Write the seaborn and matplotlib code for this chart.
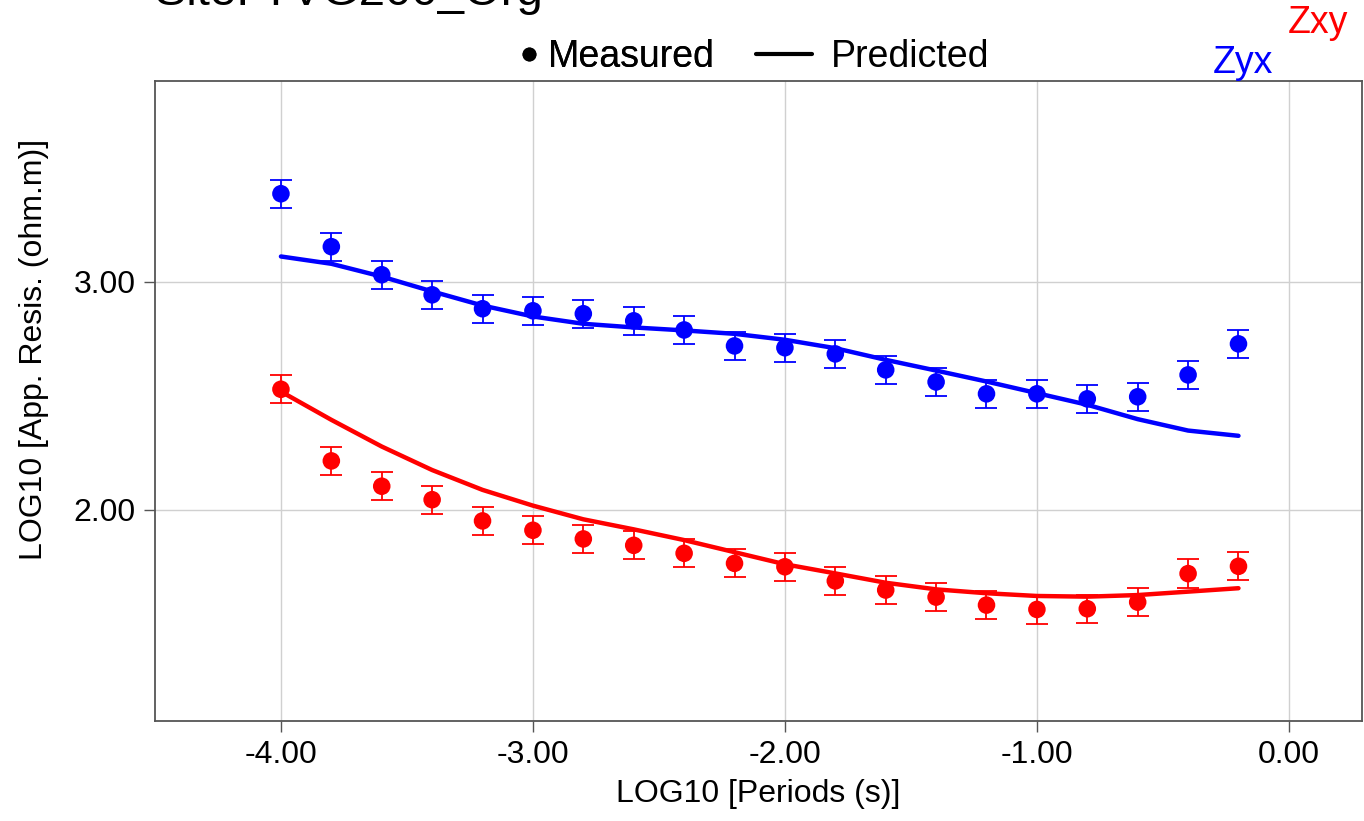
import matplotlib

matplotlib.use("Agg")

import matplotlib.pyplot as plt
import pandas as pd
import seaborn as sns
from matplotlib.lines import Line2D
from matplotlib.ticker import FormatStrFormatter, FixedLocator

# log10 period for each sounding
periods = [-4.0, -3.8, -3.6, -3.4, -3.2, -3.0, -2.8, -2.6, -2.4, -2.2,
           -2.0, -1.8, -1.6, -1.4, -1.2, -1.0, -0.8, -0.6, -0.4, -0.2]

zyx_measured = [3.386, 3.154, 3.031, 2.943, 2.882, 2.873, 2.860, 2.829, 2.789, 2.719,
                2.711, 2.684, 2.614, 2.561, 2.509, 2.509, 2.487, 2.496, 2.592, 2.728]
zyx_error = [0.062] * 20
zyx_predicted = [3.111, 3.079, 3.023, 2.958, 2.896, 2.848, 2.816, 2.800, 2.787, 2.772,
                 2.746, 2.709, 2.658, 2.611, 2.563, 2.512, 2.461, 2.398, 2.348, 2.325]

zxy_measured = [2.529, 2.215, 2.104, 2.045, 1.952, 1.911, 1.873, 1.845, 1.810, 1.766,
                1.751, 1.689, 1.649, 1.618, 1.583, 1.564, 1.567, 1.596, 1.721, 1.753]
zxy_error = [0.062] * 20
zxy_predicted = [2.519, 2.395, 2.278, 2.175, 2.088, 2.019, 1.959, 1.915, 1.868, 1.815,
                 1.762, 1.722, 1.681, 1.652, 1.635, 1.623, 1.620, 1.627, 1.642, 1.657]

x_ticks = [-4.0, -3.0, -2.0, -1.0, 0.0]
y_ticks = [2.0, 3.0]

BLUE = "#0000FF"
RED = "#FF0000"
SPINE = "#555555"

sns.set_theme(style="whitegrid")
plt.rcParams["font.family"] = ["Liberation Sans", "DejaVu Sans"]
plt.rcParams["axes.unicode_minus"] = False
plt.rcParams["text.color"] = "black"
plt.rcParams["axes.labelcolor"] = "black"

fig = plt.figure(figsize=(13.64, 8.21), dpi=100)
ax = fig.add_axes([0.1136, 0.1218, 0.8849, 0.7795])

predicted_df = pd.DataFrame(
    {
        "period": periods * 2,
        "rho": zyx_predicted + zxy_predicted,
        "mode": ["Zyx"] * 20 + ["Zxy"] * 20,
    }
)
measured_df = pd.DataFrame(
    {
        "period": periods * 2,
        "rho": zyx_measured + zxy_measured,
        "err": zyx_error + zxy_error,
        "mode": ["Zyx"] * 20 + ["Zxy"] * 20,
    }
)
palette = {"Zyx": BLUE, "Zxy": RED}

for mode, grp in measured_df.groupby("mode"):
    ax.errorbar(grp["period"], grp["rho"], yerr=grp["err"], fmt="none",
                ecolor=palette[mode], elinewidth=1.3, capsize=8, capthick=1.3,
                zorder=3)

sns.lineplot(data=predicted_df, x="period", y="rho", hue="mode", palette=palette,
             estimator=None, sort=False, linewidth=3.2, legend=False, ax=ax,
             zorder=4)
sns.scatterplot(data=measured_df, x="period", y="rho", hue="mode", palette=palette,
                s=160, edgecolor="none", legend=False, ax=ax, zorder=5)

ax.set_xlim(-4.5, 0.29)
ax.set_ylim(1.075, 3.88)
ax.xaxis.set_major_locator(FixedLocator(x_ticks))
ax.yaxis.set_major_locator(FixedLocator(y_ticks))
ax.xaxis.set_major_formatter(FormatStrFormatter("%.2f"))
ax.yaxis.set_major_formatter(FormatStrFormatter("%.2f"))
ax.tick_params(axis="both", direction="out", length=8, width=1, color=SPINE,
               labelsize=23, labelcolor="black", bottom=True, left=True, pad=6)
ax.grid(True, color="#d0d0d0", linewidth=1)
ax.set_facecolor("white")
for spine in ax.spines.values():
    spine.set_color(SPINE)
    spine.set_linewidth(1.3)

ax.set_xlabel("LOG10 [Periods (s)]", fontsize=23, labelpad=6)
ax.set_ylabel("LOG10 [App. Resis. (ohm.m)]", fontsize=23)
ax.yaxis.set_label_coords(-0.088, 0.581)

# title sits partly above the canvas, as in the original export
fig.text(0.114, 1 - 5 / 821, "Site: TVG200_Org", fontsize=34, ha="left", va="baseline")

measured_handle = Line2D([], [], marker="o", color="black", linestyle="none", markersize=9)
predicted_handle = Line2D([], [], color="black", linewidth=3)
leg1 = fig.legend([measured_handle], ["Measured"], loc="center",
                  bbox_to_anchor=(0.4527, 0.9306), frameon=False, fontsize=27,
                  handlelength=0.5, handletextpad=0.25)
fig.legend([predicted_handle], ["Predicted"], loc="center",
           bbox_to_anchor=(0.6395, 0.9306), frameon=False, fontsize=27,
           handlelength=1.5, handletextpad=0.5)
fig.add_artist(leg1)

fig.text(1243 / 1364, 1 - 73 / 821, "Zyx", color=BLUE, fontsize=27, ha="center", va="baseline")
fig.text(1318 / 1364, 1 - 33 / 821, "Zxy", color=RED, fontsize=27, ha="center", va="baseline")

fig.savefig("out.png", dpi=100)
plt.close(fig)
